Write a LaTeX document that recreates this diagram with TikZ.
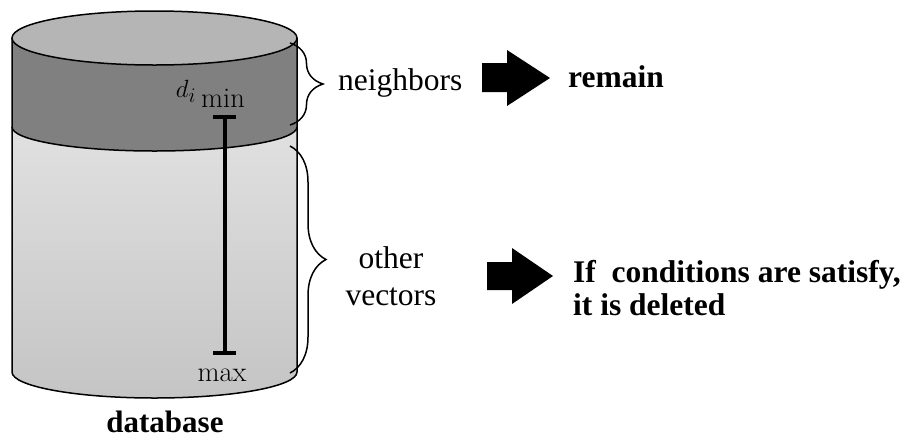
\documentclass[tikz,border=0pt]{standalone}
\usepackage{fontspec}
\newfontfamily\tnr{Liberation Serif}
\usetikzlibrary{decorations.pathreplacing}
\begin{document}
\begin{tikzpicture}[x=1pt,y=1pt,
  outline/.style={draw=black,line width=1.5pt},
  bracestyle/.style={decorate,line width=1.5pt},
  serif/.style={font=\tnr\fontsize{31.5}{33}\selectfont,inner sep=0pt,anchor=base west},
  boldserif/.style={font=\tnr\bfseries\fontsize{31.5}{32.5}\selectfont,inner sep=0pt,anchor=base west},
  lmlabel/.style={font=\fontsize{28.5}{30}\selectfont,inner sep=0pt,anchor=base},
  blockarrow/.style={fill=black}]
\useasboundingbox (0,0) rectangle (906,-440);
% lower body
\shade[top color=black!12,bottom color=black!23]
  (12,-127) arc[start angle=180,end angle=360,x radius=142.5pt,y radius=24pt]
  -- (297,-372) arc[start angle=0,end angle=-180,x radius=142.5pt,y radius=26pt] -- cycle;
% dark band
\fill[black!50]
  (12,-38) arc[start angle=180,end angle=360,x radius=142.5pt,y radius=27pt]
  -- (297,-127) arc[start angle=0,end angle=-180,x radius=142.5pt,y radius=24pt] -- cycle;
% top ellipse
\filldraw[fill=black!29,outline] (154.5,-38) ellipse[x radius=142.5pt,y radius=27pt];
% band boundary
\draw[outline] (12,-127) arc[start angle=180,end angle=360,x radius=142.5pt,y radius=24pt];
% sides and bottom
\draw[outline] (12,-38) -- (12,-372) arc[start angle=180,end angle=360,x radius=142.5pt,y radius=26pt] -- (297,-38);
% distance bar
\coordinate (bartop) at (224.5,-117);
\coordinate (barbot) at (224.5,-353);
\draw[line width=4pt] (bartop) -- (barbot);
\draw[line width=4pt] ([xshift=-11.5pt]bartop) -- ([xshift=11.5pt]bartop);
\draw[line width=4pt] ([xshift=-11.5pt]barbot) -- ([xshift=11.5pt]barbot);
% labels on cylinder
\node[font=\fontsize{24.88}{25}\selectfont,inner sep=0pt,anchor=base] (di) at (186,-97) {$d_i$};
\node[lmlabel] (min) at (223,-107) {min};
\node[lmlabel] (max) at (222,-381) {max};
\node[font=\tnr\bfseries\fontsize{31}{32}\selectfont,inner sep=0pt,anchor=base] (db) at (165,-432) {database};
% braces
\coordinate (b1s) at (290,-43);
\coordinate (b1e) at (290,-125);
\coordinate (b2s) at (290,-146);
\coordinate (b2e) at (290,-373);
\draw[bracestyle,decoration={brace,amplitude=33pt}] (b1s) -- (b1e);
\draw[bracestyle,decoration={brace,amplitude=36pt}] (b2s) -- (b2e);
% texts
\node[serif] (nb) at (338,-90) {neighbors};
\node[boldserif] (rem) at (568,-87) {remain};
\node[font=\tnr\fontsize{31.5}{37}\selectfont,inner sep=0pt,align=center,anchor=base] (ov) at (391,-305) {other\\vectors};
\node[boldserif,align=left] (cond) at (573,-315) {If\ \ conditions are satisfy,\\it is deleted};
% block arrows
\fill[blockarrow] (482,-63) -- (507,-63) -- (507,-50) -- (550,-78) -- (507,-106) -- (507,-92) -- (482,-92) -- cycle;
\fill[blockarrow] (487,-262) -- (512,-262) -- (512,-248) -- (553,-276) -- (512,-304) -- (512,-290) -- (487,-290) -- cycle;
\end{tikzpicture}
\end{document}
